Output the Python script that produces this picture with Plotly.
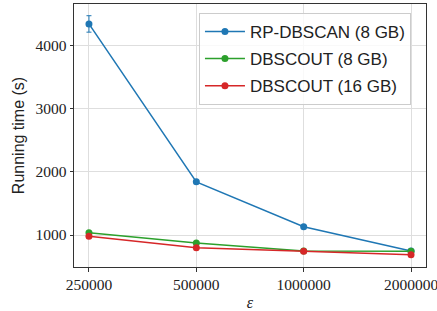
import plotly.graph_objects as go

eps = [250000, 500000, 1000000, 2000000]
tick_labels = ["250000", "500000", "1000000", "2000000"]
rp_dbscan_8 = [4335, 1840, 1132, 748]
rp_dbscan_8_err = [130, 20, 15, 10]
dbscout_8 = [1035, 875, 748, 742]
dbscout_8_err = [15, 10, 8, 8]
dbscout_16 = [980, 800, 745, 690]
dbscout_16_err = [15, 10, 8, 8]

series = [
    ("RP-DBSCAN (8 GB)", rp_dbscan_8, rp_dbscan_8_err, "#1f77b4"),
    ("DBSCOUT (8 GB)", dbscout_8, dbscout_8_err, "#2ca02c"),
    ("DBSCOUT (16 GB)", dbscout_16, dbscout_16_err, "#d62728"),
]

fig = go.Figure()
for i, (name, ys, errs, col) in enumerate(series):
    fig.add_trace(go.Scatter(
        x=eps, y=ys, name=name, mode="lines+markers", legendgroup=f"g{i}",
        line=dict(color=col, width=1.5),
        marker=dict(color=col, size=7),
        error_y=dict(type="data", array=errs, color=col, thickness=1, width=2.5),
    ))

axis_common = dict(
    showline=True, linecolor="#333333", linewidth=1, mirror=True,
    showgrid=True, gridcolor="#dedede", gridwidth=1,
    ticks="outside", ticklen=3.5, tickcolor="#333333",
    tickfont=dict(family="Liberation Serif", size=15.5, color="#222222"),
    zeroline=False, automargin=False,
)

fig.update_layout(
    width=437, height=311,
    margin=dict(l=74, r=11, t=4, b=44),
    paper_bgcolor="white", plot_bgcolor="white",
    showlegend=True,
    legend=dict(
        x=0.355, y=0.966, xanchor="left", yanchor="top",
        bgcolor="rgba(255,255,255,0.8)", bordercolor="#cccccc", borderwidth=1,
        font=dict(family="Liberation Sans", size=17, color="#222222"),
        tracegroupgap=2, itemwidth=40,
    ),
    xaxis=dict(
        type="log", range=[5.356, 6.343],
        tickvals=eps, ticktext=tick_labels, ticklabeloverflow="allow",
        title=dict(text="<i>ε</i>", font=dict(family="Liberation Serif", size=16, color="#222222"), standoff=5),
        **axis_common,
    ),
    yaxis=dict(
        range=[495, 4650],
        tickvals=[1000, 2000, 3000, 4000],
        title=dict(text="Running time (s)", font=dict(family="Liberation Sans", size=16, color="#222222"), standoff=6),
        **axis_common,
    ),
)

fig.write_html("out.html", config={"displayModeBar": False},
               post_script="document.body.style.margin='0';document.body.style.overflow='hidden';")
